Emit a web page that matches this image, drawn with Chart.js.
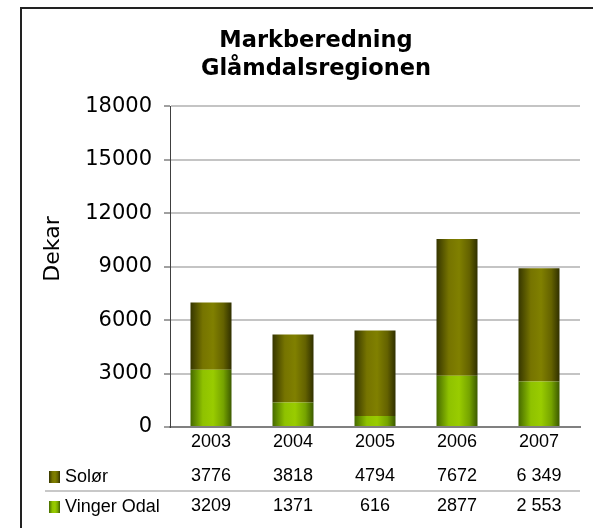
<!DOCTYPE html>
<html>
<head>
<meta charset="utf-8">
<script src="https://cdn.jsdelivr.net/npm/chart.js@4.4.1/dist/chart.umd.min.js"></script>
<style>
  body { margin: 0; background: #fff; }
  canvas { display: block; }
</style>
</head>
<body>
<canvas id="myChart" width="593" height="528"></canvas>
<script>
// data
const years = ['2003', '2004', '2005', '2006', '2007'];
const soloer = [3776, 3818, 4794, 7672, 6349];
const vingerOdal = [3209, 1371, 616, 2877, 2553];
const soloerLabels = ['3776', '3818', '4794', '7672', '6 349'];
const vingerLabels = ['3209', '1371', '616', '2877', '2 553'];
const yTicks = [0, 3000, 6000, 9000, 12000, 15000, 18000];

// gradient stops, edge -> centre -> edge
const soloerStops = [[0, '#363600'], [0.3, '#767400'], [0.55, '#808000'], [0.8, '#646200'], [1, '#303000']];
const vingerStops = [[0, '#466a00'], [0.3, '#8fc200'], [0.55, '#99cc00'], [0.8, '#76a400'], [1, '#3c5a00']];

function makeGradient(ctx, x0, x1, stops) {
    let g = ctx.createLinearGradient(x0, 0, x1, 0);
    stops.forEach(s => g.addColorStop(s[0], s[1]));
    return g;
}

function barFill(stops) {
    return function(c) {
        let chart = c.chart;
        let xs = chart.scales.x;
        if (!chart.chartArea || !xs) return stops[2][1];
        let cx = xs.getPixelForValue(c.dataIndex);
        let w = xs.width / years.length * 0.5;
        return makeGradient(chart.ctx, cx - w / 2, cx + w / 2, stops);
    };
}

// frame, axis title and the data table under the chart
const extras = {
    id: 'extras',
    beforeDraw(chart) {
        let ctx = chart.ctx;
        ctx.save();
        ctx.strokeStyle = '#222';
        ctx.lineWidth = 2;
        ctx.beginPath();
        ctx.moveTo(21, 528);
        ctx.lineTo(21, 8);
        ctx.lineTo(593, 8);
        ctx.stroke();
        ctx.restore();
    },
    afterDraw(chart) {
        let ctx = chart.ctx;
        let xs = chart.scales.x;
        ctx.save();
        // Dekar
        ctx.translate(53, 249);
        ctx.rotate(-Math.PI / 2);
        ctx.font = '22px "DejaVu Sans"';
        ctx.fillStyle = '#000';
        ctx.textAlign = 'center';
        ctx.textBaseline = 'middle';
        ctx.fillText('Dekar', 0, 0);
        ctx.restore();

        ctx.save();
        ctx.strokeStyle = '#c8c8c8';
        ctx.lineWidth = 2;
        ctx.beginPath();
        ctx.moveTo(45, 491);
        ctx.lineTo(580, 491);
        ctx.stroke();

        let rows = [
            { name: 'Solør', labels: soloerLabels, stops: soloerStops, y: 476 },
            { name: 'Vinger Odal', labels: vingerLabels, stops: vingerStops, y: 506 }
        ];
        ctx.font = '18px "Liberation Sans"';
        ctx.textBaseline = 'middle';
        ctx.fillStyle = '#000';
        rows.forEach(r => {
            ctx.fillStyle = makeGradient(ctx, 49, 60, r.stops);
            ctx.fillRect(49, r.y - 5, 11, 12);
            ctx.fillStyle = '#000';
            ctx.textAlign = 'left';
            ctx.fillText(r.name, 65, r.y + 1);
            ctx.textAlign = 'center';
            r.labels.forEach((t, i) => {
                ctx.fillText(t, xs.getPixelForValue(i), r.y);
            });
        });
        ctx.restore();
    }
};

let myChart = document.getElementById('myChart').getContext('2d');
let markChart = new Chart(myChart, {
    type: 'bar',
    data: {
        labels: years,
        datasets: [{
            label: 'Vinger Odal',
            data: vingerOdal,
            backgroundColor: barFill(vingerStops),
            barPercentage: 0.5,
            categoryPercentage: 1.0
        }, {
            label: 'Solør',
            data: soloer,
            backgroundColor: barFill(soloerStops),
            barPercentage: 0.5,
            categoryPercentage: 1.0
        }]
    },
    options: {
        responsive: false,
        animation: false,
        layout: {
            padding: { left: 52, right: 13, top: 0, bottom: 0 }
        },
        plugins: {
            legend: { display: false },
            tooltip: { enabled: false },
            title: {
                display: true,
                text: ['Markberedning', 'Glåmdalsregionen'],
                color: '#000',
                font: { family: 'DejaVu Sans', size: 22.5, weight: 'bold', lineHeight: 1.25 },
                padding: { top: 27, bottom: 23 }
            }
        },
        scales: {
            x: {
                stacked: true,
                grid: { display: false, drawTicks: false },
                border: { color: '#808080', width: 2 },
                ticks: {
                    color: '#000',
                    font: { family: 'Liberation Sans', size: 18 },
                    padding: 4
                },
                afterFit(scale) { scale.height = 101; }
            },
            y: {
                stacked: true,
                min: 0,
                max: 18000,
                afterBuildTicks(scale) {
                    scale.ticks = yTicks.map(v => ({ value: v }));
                },
                grid: {
                    color: '#c4c4c4',
                    lineWidth: 2,
                    tickColor: '#404040',
                    tickWidth: 1,
                    tickLength: 6
                },
                border: { color: '#404040', width: 1 },
                ticks: {
                    color: '#000',
                    font: { family: 'DejaVu Sans', size: 21 },
                    padding: 12,
                    callback: v => String(v)
                },
                afterFit(scale) { scale.width = 118; }
            }
        }
    },
    plugins: [extras]
});
</script>
</body>
</html>
